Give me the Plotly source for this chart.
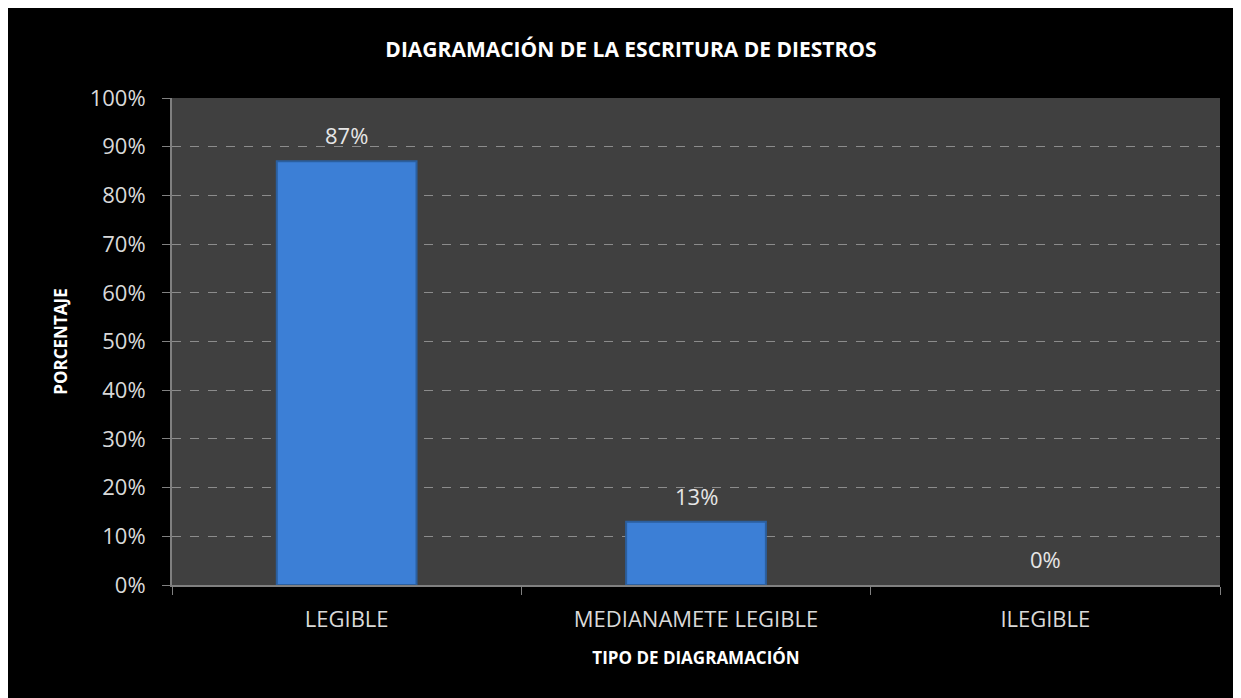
import plotly.graph_objects as go

categories = ["LEGIBLE", "MEDIANAMETE LEGIBLE", "ILEGIBLE"]
values = [0.87, 0.13, 0.0]
labels = ["87%", "13%", "0%"]

W, H = 1241, 698
# the page adds an 8px white margin on the top and left
ml, mr, mt, mb = 164, 29, 90, 121

# no outline on empty bars
outline = ["#2b5f9f" if v > 0 else "rgba(0,0,0,0)" for v in values]

fig = go.Figure()
fig.add_trace(go.Bar(
    x=categories,
    y=values,
    marker=dict(color="#3c7fd6", line=dict(color=outline, width=2)),
    hoverinfo="x+y",
))

# value labels above the bars
for cat, val, lab in zip(categories, values, labels):
    fig.add_annotation(x=cat, y=val, text=lab, showarrow=False,
                       yanchor="middle", yshift=26,
                       font=dict(size=22, color="#e6e6e6"))

fig.update_layout(
    width=W, height=H,
    margin=dict(l=ml, r=mr, t=mt, b=mb),
    paper_bgcolor="black",
    plot_bgcolor="#404040",
    bargap=0.6,
    showlegend=False,
    font=dict(family="Open Sans", color="#d9d9d9"),
    title=dict(text="<b>DIAGRAMACIÓN DE LA ESCRITURA DE DIESTROS</b>",
               x=0.502, xanchor="center", y=0.94, yanchor="middle",
               font=dict(size=21, color="white")),
)

fig.update_yaxes(
    range=[0, 1], dtick=0.1, tickformat=".0%",
    tickfont=dict(size=22, color="#d9d9d9"),
    ticks="outside", ticklen=8, tickcolor="#808080", ticklabelstandoff=12,
    showline=True, linecolor="#808080", linewidth=2,
    showgrid=True, gridcolor="#8c8c8c", griddash="dash", gridwidth=1,
    zeroline=False,
    title=dict(text="<b>PORCENTAJE</b>", font=dict(size=17, color="white"), standoff=18),
)
fig.update_xaxes(
    tickfont=dict(size=22, color="#d9d9d9"),
    ticks="outside", tickson="boundaries", ticklen=8, tickcolor="#808080", ticklabelstandoff=14,
    showline=True, linecolor="#808080", linewidth=2,
    title=dict(text="<b>TIPO DE DIAGRAMACIÓN</b>", font=dict(size=17, color="white"), standoff=20),
)

fig.write_html("out.html")
